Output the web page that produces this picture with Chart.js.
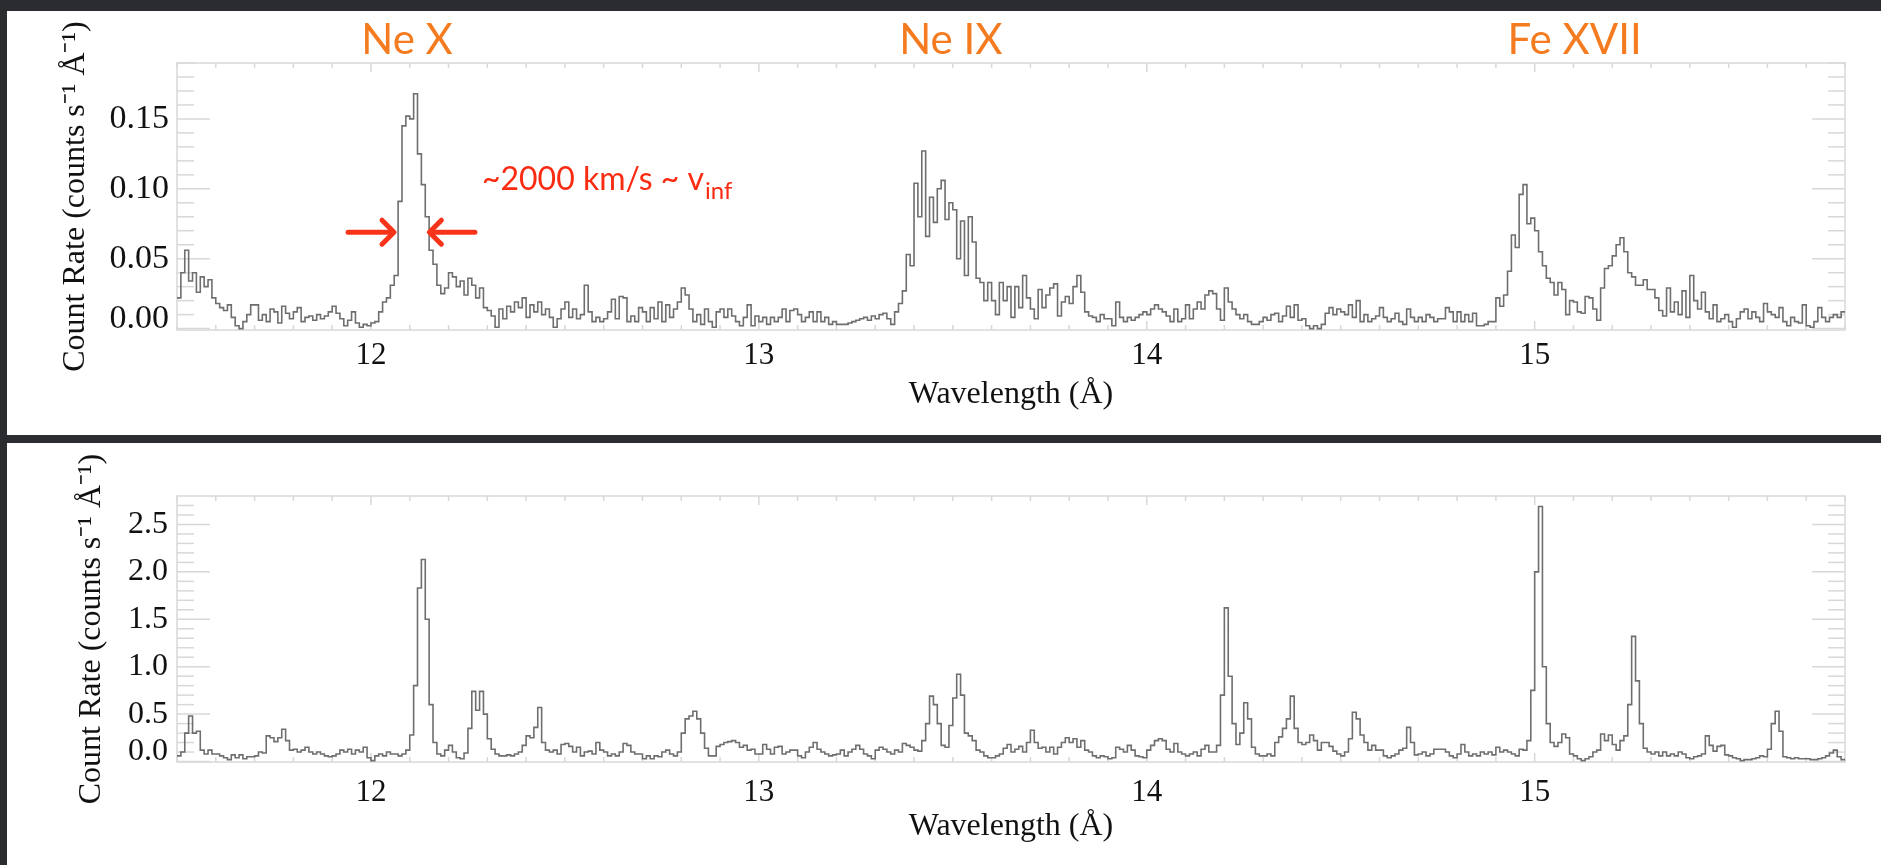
<!DOCTYPE html>
<html>
<head>
<meta charset="utf-8">
<title>Count rate spectra</title>
<script src="https://cdn.jsdelivr.net/npm/chart.js@4.4.1/dist/chart.umd.min.js"></script>
<style>
  html, body { margin: 0; padding: 0; background: #2a2c30; overflow: hidden; }
  .panel { position: absolute; left: 7px; width: 1874px; background: #fff; }
  #panelTop { top: 11px; height: 424px; }
  #panelBottom { top: 443px; height: 422px; }
  canvas { display: block; }
</style>
</head>
<body>
<div class="panel" id="panelTop"><canvas id="chartTop" width="1874" height="424"></canvas></div>
<div class="panel" id="panelBottom"><canvas id="chartBottom" width="1874" height="422"></canvas></div>
<script>
// 0.01 A bins from 11.50 to 15.80
const binStart = 11.5;
const binWidth = 0.01;

const xTicks = [12, 13, 14, 15];
const topYTicks = [0, 0.05, 0.10, 0.15];
const bottomYTicks = [0, 0.5, 1.0, 1.5, 2.0, 2.5];

const lineLabels = ['Ne X', 'Ne IX', 'Fe XVII'];
const lineLabelWave = [12.093, 13.495, 15.103];

// top panel, one row per 0.1 A
const topRate = [
  0.022, 0.040, 0.056, 0.034, 0.040, 0.026, 0.037, 0.030, 0.035, 0.022,
  0.018, 0.015, 0.013, 0.017, 0.008, 0.002, 0.000, 0.005, 0.010, 0.017,
  0.017, 0.006, 0.010, 0.005, 0.014, 0.012, 0.004, 0.016, 0.011, 0.007,
  0.012, 0.015, 0.005, 0.008, 0.009, 0.006, 0.010, 0.007, 0.009, 0.012,
  0.016, 0.011, 0.007, 0.002, 0.006, 0.012, 0.004, 0.001, 0.003, 0.002,
  0.004, 0.005, 0.012, 0.019, 0.022, 0.031, 0.038, 0.091, 0.145, 0.152,
  0.150, 0.168, 0.125, 0.103, 0.080, 0.056, 0.046, 0.031, 0.025, 0.029,
  0.040, 0.037, 0.030, 0.034, 0.024, 0.036, 0.031, 0.022, 0.029, 0.015,
  0.013, 0.009, 0.001, 0.014, 0.007, 0.016, 0.012, 0.019, 0.015, 0.022,
  0.008, 0.017, 0.012, 0.019, 0.010, 0.014, 0.008, 0.001, 0.007, 0.014,
  0.019, 0.008, 0.014, 0.007, 0.010, 0.031, 0.012, 0.005, 0.008, 0.005,
  0.007, 0.012, 0.021, 0.007, 0.023, 0.022, 0.005, 0.009, 0.005, 0.015,
  0.012, 0.005, 0.015, 0.007, 0.019, 0.005, 0.017, 0.008, 0.014, 0.019,
  0.029, 0.024, 0.014, 0.005, 0.010, 0.003, 0.014, 0.005, 0.001, 0.012,
  0.014, 0.008, 0.014, 0.009, 0.005, 0.002, 0.008, 0.017, 0.002, 0.009,
  0.005, 0.008, 0.003, 0.008, 0.005, 0.008, 0.014, 0.005, 0.013, 0.014,
  0.010, 0.005, 0.008, 0.012, 0.005, 0.012, 0.005, 0.008, 0.003, 0.005,
  0.003, 0.003, 0.003, 0.004, 0.005, 0.006, 0.007, 0.008, 0.006, 0.009,
  0.007, 0.010, 0.011, 0.007, 0.003, 0.012, 0.018, 0.027, 0.053, 0.045,
  0.104, 0.080, 0.127, 0.066, 0.094, 0.076, 0.100, 0.106, 0.078, 0.090,
  0.085, 0.050, 0.077, 0.038, 0.080, 0.062, 0.036, 0.033, 0.020, 0.033,
  0.020, 0.010, 0.033, 0.020, 0.030, 0.008, 0.030, 0.015, 0.038, 0.022,
  0.014, 0.007, 0.028, 0.015, 0.024, 0.029, 0.032, 0.009, 0.019, 0.023,
  0.018, 0.030, 0.038, 0.026, 0.012, 0.009, 0.008, 0.005, 0.010, 0.007,
  0.007, 0.002, 0.019, 0.008, 0.005, 0.008, 0.006, 0.008, 0.010, 0.012,
  0.010, 0.014, 0.017, 0.014, 0.012, 0.009, 0.005, 0.014, 0.005, 0.007,
  0.017, 0.007, 0.014, 0.019, 0.014, 0.024, 0.027, 0.025, 0.014, 0.006,
  0.029, 0.019, 0.014, 0.010, 0.007, 0.010, 0.005, 0.003, 0.003, 0.005,
  0.008, 0.006, 0.010, 0.011, 0.005, 0.009, 0.016, 0.008, 0.017, 0.006,
  0.007, 0.002, 0.000, 0.002, 0.000, 0.003, 0.011, 0.015, 0.010, 0.014,
  0.012, 0.010, 0.017, 0.008, 0.020, 0.005, 0.010, 0.005, 0.007, 0.009,
  0.015, 0.008, 0.005, 0.007, 0.011, 0.005, 0.003, 0.014, 0.008, 0.005,
  0.008, 0.005, 0.010, 0.008, 0.005, 0.007, 0.007, 0.015, 0.012, 0.005,
  0.012, 0.005, 0.010, 0.005, 0.011, 0.002, 0.002, 0.003, 0.005, 0.005,
  0.022, 0.016, 0.024, 0.041, 0.067, 0.058, 0.096, 0.103, 0.075, 0.079,
  0.070, 0.055, 0.045, 0.036, 0.033, 0.024, 0.033, 0.028, 0.010, 0.020,
  0.019, 0.012, 0.011, 0.023, 0.022, 0.014, 0.006, 0.029, 0.043, 0.045,
  0.052, 0.060, 0.065, 0.055, 0.040, 0.037, 0.031, 0.031, 0.035, 0.028,
  0.028, 0.022, 0.013, 0.009, 0.029, 0.012, 0.019, 0.010, 0.027, 0.008,
  0.038, 0.020, 0.014, 0.026, 0.012, 0.007, 0.017, 0.005, 0.007, 0.010,
  0.005, 0.001, 0.007, 0.012, 0.014, 0.007, 0.012, 0.008, 0.005, 0.018,
  0.012, 0.010, 0.008, 0.015, 0.005, 0.002, 0.008, 0.005, 0.004, 0.017,
  0.002, 0.001, 0.005, 0.015, 0.008, 0.005, 0.008, 0.010, 0.008, 0.012
];

// bottom panel, one row per 0.1 A
const bottomRate = [
  0.06, 0.10, 0.30, 0.48, 0.30, 0.32, 0.12, 0.08, 0.12, 0.08,
  0.08, 0.06, 0.04, 0.02, 0.07, 0.04, 0.07, 0.03, 0.05, 0.05,
  0.06, 0.10, 0.09, 0.27, 0.25, 0.21, 0.25, 0.34, 0.22, 0.12,
  0.13, 0.10, 0.12, 0.15, 0.10, 0.08, 0.10, 0.08, 0.06, 0.05,
  0.06, 0.08, 0.12, 0.10, 0.13, 0.08, 0.12, 0.10, 0.15, 0.04,
  0.01, 0.06, 0.08, 0.06, 0.10, 0.08, 0.08, 0.06, 0.08, 0.12,
  0.28, 0.80, 1.83, 2.13, 1.50, 0.60, 0.20, 0.08, 0.06, 0.12,
  0.17, 0.10, 0.04, 0.03, 0.09, 0.35, 0.74, 0.54, 0.74, 0.50,
  0.24, 0.13, 0.08, 0.06, 0.06, 0.07, 0.06, 0.08, 0.10, 0.17,
  0.27, 0.25, 0.36, 0.57, 0.20, 0.12, 0.10, 0.12, 0.08, 0.18,
  0.19, 0.16, 0.10, 0.15, 0.06, 0.10, 0.11, 0.08, 0.20, 0.12,
  0.10, 0.06, 0.08, 0.06, 0.10, 0.19, 0.17, 0.10, 0.08, 0.08,
  0.03, 0.06, 0.03, 0.06, 0.05, 0.10, 0.12, 0.08, 0.06, 0.10,
  0.30, 0.45, 0.48, 0.53, 0.45, 0.30, 0.14, 0.06, 0.06, 0.16,
  0.18, 0.20, 0.21, 0.22, 0.20, 0.15, 0.17, 0.12, 0.13, 0.08,
  0.08, 0.18, 0.13, 0.08, 0.15, 0.16, 0.08, 0.10, 0.12, 0.12,
  0.06, 0.04, 0.10, 0.15, 0.20, 0.13, 0.10, 0.08, 0.06, 0.07,
  0.08, 0.12, 0.06, 0.10, 0.13, 0.17, 0.13, 0.08, 0.06, 0.03,
  0.12, 0.15, 0.13, 0.10, 0.08, 0.12, 0.10, 0.19, 0.17, 0.15,
  0.12, 0.11, 0.22, 0.40, 0.69, 0.60, 0.40, 0.17, 0.15, 0.38,
  0.67, 0.92, 0.70, 0.30, 0.27, 0.22, 0.12, 0.10, 0.06, 0.04,
  0.04, 0.06, 0.08, 0.14, 0.18, 0.10, 0.13, 0.16, 0.10, 0.20,
  0.33, 0.20, 0.14, 0.15, 0.10, 0.15, 0.08, 0.15, 0.20, 0.25,
  0.20, 0.24, 0.15, 0.22, 0.12, 0.10, 0.06, 0.04, 0.06, 0.05,
  0.03, 0.04, 0.15, 0.13, 0.10, 0.17, 0.12, 0.06, 0.05, 0.04,
  0.12, 0.17, 0.22, 0.24, 0.22, 0.13, 0.10, 0.19, 0.10, 0.08,
  0.06, 0.08, 0.10, 0.06, 0.13, 0.17, 0.10, 0.10, 0.17, 0.70,
  1.62, 0.90, 0.40, 0.18, 0.30, 0.62, 0.45, 0.15, 0.08, 0.06,
  0.06, 0.08, 0.06, 0.20, 0.26, 0.35, 0.45, 0.69, 0.35, 0.20,
  0.18, 0.20, 0.28, 0.22, 0.12, 0.20, 0.20, 0.16, 0.11, 0.08,
  0.06, 0.10, 0.24, 0.52, 0.45, 0.28, 0.20, 0.12, 0.17, 0.12,
  0.12, 0.06, 0.04, 0.06, 0.08, 0.12, 0.14, 0.36, 0.20, 0.07,
  0.08, 0.10, 0.06, 0.08, 0.13, 0.13, 0.13, 0.10, 0.06, 0.04,
  0.08, 0.18, 0.10, 0.06, 0.08, 0.06, 0.10, 0.08, 0.10, 0.07,
  0.15, 0.10, 0.12, 0.10, 0.08, 0.06, 0.13, 0.12, 0.22, 0.75,
  2.00, 2.69, 1.00, 0.40, 0.20, 0.16, 0.20, 0.29, 0.25, 0.08,
  0.06, 0.03, 0.01, 0.03, 0.05, 0.10, 0.12, 0.29, 0.22, 0.28,
  0.18, 0.12, 0.22, 0.27, 0.60, 1.32, 0.85, 0.40, 0.14, 0.10,
  0.08, 0.10, 0.06, 0.10, 0.06, 0.08, 0.06, 0.10, 0.08, 0.04,
  0.03, 0.05, 0.06, 0.08, 0.27, 0.17, 0.11, 0.16, 0.17, 0.07,
  0.06, 0.04, 0.03, 0.01, 0.02, 0.02, 0.03, 0.04, 0.06, 0.05,
  0.13, 0.40, 0.53, 0.32, 0.05, 0.04, 0.03, 0.04, 0.03, 0.03,
  0.03, 0.02, 0.02, 0.03, 0.04, 0.06, 0.09, 0.12, 0.05, 0.02
];

const serif = "'Liberation Serif', 'Times New Roman', serif";
const sans = "Lato, 'Open Sans', sans-serif";

// histogram: each point holds its value until the next bin edge
function toSteps(rates) {
  const pts = rates.map((v, i) => ({ x: binStart + i * binWidth, y: v }));
  pts.push({ x: binStart + rates.length * binWidth, y: rates[rates.length - 1] });
  return pts;
}

function tickLine(ctx, x0, y0, x1, y1) {
  ctx.beginPath();
  ctx.moveTo(x0, y0);
  ctx.lineTo(x1, y1);
  ctx.stroke();
}

// light box plus inward tick marks, like the IDL plot
const framePlugin = {
  id: 'frame',
  beforeDatasetsDraw(chart, args, opts) {
    const { ctx, chartArea: a } = chart;
    const x = chart.scales.x, y = chart.scales.y;
    ctx.save();
    ctx.strokeStyle = '#d8d8d8';
    ctx.lineWidth = 1.5;
    ctx.strokeRect(a.left, a.top, a.right - a.left, a.bottom - a.top);
    for (let i = 0; i * opts.yMinor <= y.max; i++) {
      const py = y.getPixelForValue(i * opts.yMinor);
      const len = i % 5 === 0 ? 33 : 17;
      tickLine(ctx, a.left, py, a.left + len, py);
      tickLine(ctx, a.right - len, py, a.right, py);
    }
    for (let w = 115; w <= 158; w++) {
      const px = x.getPixelForValue(w / 10);
      const len = w % 10 === 0 ? 9 : 5;
      tickLine(ctx, px, a.top, px, a.top + len);
      tickLine(ctx, px, a.bottom - len, px, a.bottom);
    }
    ctx.restore();
  }
};

function drawArrow(ctx, x0, x1, yy) {
  const dir = Math.sign(x1 - x0);
  ctx.beginPath();
  ctx.moveTo(x0, yy);
  ctx.lineTo(x1 - dir * 2, yy);
  ctx.stroke();
  ctx.beginPath();
  ctx.moveTo(x1 - dir * 13, yy - 12);
  ctx.lineTo(x1 - dir * 1, yy);
  ctx.lineTo(x1 - dir * 13, yy + 12);
  ctx.stroke();
}

const notePlugin = {
  id: 'notes',
  afterDatasetsDraw(chart) {
    const { ctx, chartArea: a } = chart;
    const x = chart.scales.x, y = chart.scales.y;
    ctx.save();
    ctx.fillStyle = '#f47b20';
    ctx.font = '42px ' + sans;
    ctx.textAlign = 'center';
    ctx.textBaseline = 'alphabetic';
    lineLabels.forEach((t, i) => ctx.fillText(t, x.getPixelForValue(lineLabelWave[i]), a.top - 9));

    ctx.fillStyle = '#fb2b11';
    ctx.font = '32px ' + sans;
    ctx.textAlign = 'left';
    const tx = x.getPixelForValue(12.286);
    const ty = y.getPixelForValue(0.0995);
    const txt = '~2000 km/s ~ v';
    ctx.fillText(txt, tx, ty);
    const w = ctx.measureText(txt).width;
    ctx.font = '24px ' + sans;
    ctx.fillText('inf', tx + w + 1, ty + 9);

    ctx.strokeStyle = '#f7341a';
    ctx.lineWidth = 5;
    ctx.lineCap = 'round';
    ctx.lineJoin = 'round';
    const ay = y.getPixelForValue(0.069);
    drawArrow(ctx, x.getPixelForValue(11.941), x.getPixelForValue(12.062), ay);
    drawArrow(ctx, x.getPixelForValue(12.268), x.getPixelForValue(12.148), ay);
    ctx.restore();
  }
};

function makeChart(id, rates, cfg, extra) {
  return new Chart(document.getElementById(id), {
    type: 'line',
    data: {
      datasets: [{
        data: toSteps(rates),
        stepped: 'before',
        borderColor: '#6e6e6e',
        borderWidth: 1.6,
        pointRadius: 0,
        fill: false
      }]
    },
    options: {
      responsive: false,
      animation: false,
      devicePixelRatio: 1,
      layout: { padding: { top: cfg.padTop, right: 36, left: 0, bottom: 0 } },
      plugins: {
        legend: { display: false },
        tooltip: { enabled: false },
        frame: { yMinor: cfg.yMinor }
      },
      scales: {
        x: {
          type: 'linear',
          min: 11.5,
          max: 15.8,
          afterBuildTicks: s => { s.ticks = xTicks.map(v => ({ value: v })); },
          afterFit: s => { s.height = cfg.xHeight; },
          grid: { display: false, drawTicks: false },
          border: { display: false },
          ticks: {
            color: '#111',
            font: { family: serif, size: 31 },
            padding: cfg.xPad,
            maxRotation: 0,
            autoSkip: false
          },
          title: {
            display: true,
            text: 'Wavelength (Å)',
            color: '#111',
            font: { family: serif, size: 32 },
            padding: { top: 0, bottom: cfg.xTitlePad }
          }
        },
        y: {
          min: cfg.yMin,
          max: cfg.yMax,
          afterBuildTicks: s => { s.ticks = cfg.yTicks.map(v => ({ value: v })); },
          afterFit: s => { s.width = 170; },
          grid: { display: false, drawTicks: false },
          border: { display: false },
          ticks: {
            color: '#111',
            padding: cfg.yPad,
            // the zero label sits a little above its tick in the original
            callback: v => v === 0 ? [v.toFixed(cfg.digits), ''] : v.toFixed(cfg.digits),
            font: c => ({
              family: serif,
              size: cfg.yFont,
              lineHeight: c.tick && c.tick.value === 0 ? '19px' : 1.2
            })
          },
          title: {
            display: true,
            text: 'Count Rate (counts s⁻¹ Å⁻¹)',
            color: '#111',
            font: { family: serif, size: 32 },
            padding: { top: cfg.yTitlePad, bottom: 0 }
          }
        }
      }
    },
    plugins: [framePlugin].concat(extra)
  });
}

makeChart('chartTop', topRate, {
  padTop: 52, xHeight: 105, xPad: 7, xTitlePad: 21,
  yMin: -0.001, yMax: 0.19, yTicks: topYTicks, yMinor: 0.01, digits: 2,
  yFont: 34, yPad: 8, yTitlePad: 49
}, [notePlugin]);

makeChart('chartBottom', bottomRate, {
  padTop: 53, xHeight: 103, xPad: 12, xTitlePad: 19,
  yMin: -0.005, yMax: 2.8, yTicks: bottomYTicks, yMinor: 0.1, digits: 1,
  yFont: 32, yPad: 9, yTitlePad: 65
}, []);
</script>
</body>
</html>
